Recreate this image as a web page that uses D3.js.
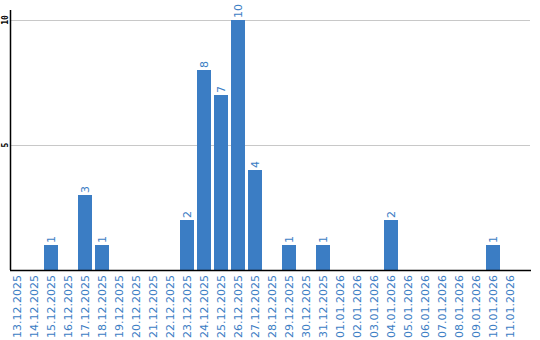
<!DOCTYPE html>
<html><head><meta charset="utf-8">
<script src="https://cdn.jsdelivr.net/npm/d3@7"></script>
<style>body{margin:0;background:#fff}svg{display:block}</style>
</head><body>
<script>
const categories = ["13.12.2025","14.12.2025","15.12.2025","16.12.2025","17.12.2025","18.12.2025","19.12.2025","20.12.2025","21.12.2025","22.12.2025","23.12.2025","24.12.2025","25.12.2025","26.12.2025","27.12.2025","28.12.2025","29.12.2025","30.12.2025","31.12.2025","01.01.2026","02.01.2026","03.01.2026","04.01.2026","05.01.2026","06.01.2026","07.01.2026","08.01.2026","09.01.2026","10.01.2026","11.01.2026"];
const values = [0,0,1,0,3,1,0,0,0,0,2,8,7,10,4,0,1,0,1,0,0,0,2,0,0,0,0,0,1,0];
const yTicks = [5,10];

const W=540,H=340;
const svg=d3.select("body").append("svg").attr("width",W).attr("height",H);
const x=d3.scaleBand().domain(categories).range([10,517]).paddingInner(3/17).paddingOuter(0).align(0);
const y=d3.scaleLinear().domain([0,10]).range([270,20]);
const blue="#3b7dc4";

// gridlines
svg.append("g").selectAll("line").data(yTicks).join("line")
  .attr("x1",10).attr("x2",530).attr("y1",d=>y(d)+0.5).attr("y2",d=>y(d)+0.5)
  .attr("stroke","#c8c8c8").attr("stroke-width",1);

// bars
svg.append("g").selectAll("rect").data(values.map((v,i)=>({c:categories[i],v})).filter(d=>d.v>0)).join("rect")
  .attr("x",d=>x(d.c)).attr("width",x.bandwidth())
  .attr("y",d=>y(d.v)).attr("height",d=>y(0)-y(d.v)).attr("fill",blue);

// value labels
svg.append("g").selectAll("text").data(values.map((v,i)=>({c:categories[i],v})).filter(d=>d.v>0)).join("text")
  .attr("transform",d=>`translate(${x(d.c)+x.bandwidth()/2+4},${y(d.v)-2}) rotate(-90)`)
  .attr("text-anchor","start").attr("fill",blue)
  .style("font-family","DejaVu Sans, Verdana, sans-serif").style("font-size","11px")
  .text(d=>d.v);

// axes lines
svg.append("line").attr("x1",10.5).attr("x2",10.5).attr("y1",10).attr("y2",270).attr("stroke","#000").attr("stroke-width",1.5);
svg.append("line").attr("x1",10).attr("x2",531).attr("y1",270.5).attr("y2",270.5).attr("stroke","#000").attr("stroke-width",1.5);

// x labels
svg.append("g").selectAll("text").data(categories).join("text")
  .attr("transform",d=>`translate(${x(d)+x.bandwidth()/2+4},275) rotate(-90)`)
  .attr("text-anchor","end").attr("fill",blue)
  .style("font-family","DejaVu Sans, Verdana, sans-serif").style("font-size","11px")
  .text(d=>d);

// y tick labels
svg.append("g").selectAll("text").data(yTicks).join("text")
  .attr("transform",d=>`translate(7.5,${y(d)}) rotate(-90)`)
  .attr("text-anchor","middle").attr("fill","#000")
  .style("font-family","DejaVu Sans Mono, monospace").style("font-size","8px").style("font-weight","bold")
  .text(d=>d);
</script>
</body></html>
